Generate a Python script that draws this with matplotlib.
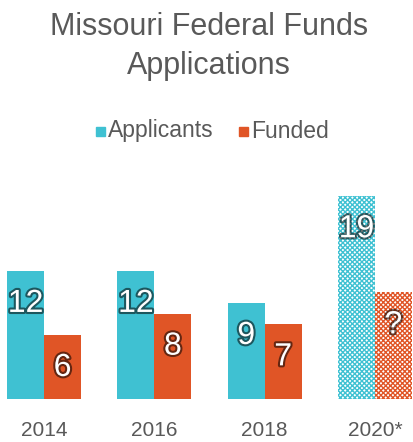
import numpy as np
import matplotlib
matplotlib.use("Agg")
import matplotlib.pyplot as plt
import matplotlib.patheffects as pe

plt.rcParams['font.family'] = ['Liberation Sans', 'DejaVu Sans']
plt.rcParams['hatch.linewidth'] = 1.0

years = ['2014', '2016', '2018', '2020*']
applicants = [12, 12, 9, 19]
funded = [6, 8, 7, 10]
funded_labels = ['6', '8', '7', '?']
applicant_labels = ['12', '12', '9', '19']
projected = [False, False, False, True]

teal = '#3FC1D2'
orange = '#E05526'
grey = '#595959'

fig = plt.figure(figsize=(4.13, 4.42), dpi=100)
ax = fig.add_axes([0, 43/442, 1, 225/442])

x = np.arange(len(years))
w = 0.335

for i in range(len(years)):
    for xpos, val, col, lab in [(x[i] - w/2, applicants[i], teal, applicant_labels[i]),
                                (x[i] + w/2, funded[i], orange, funded_labels[i])]:
        if projected[i]:
            ax.bar(xpos, val, w, color='white', edgecolor=col, hatch='xxxxxxx', linewidth=0)
        else:
            ax.bar(xpos, val, w, color=col, linewidth=0)
        t = ax.annotate(lab, (xpos, val), xytext=(0, -33), textcoords='offset pixels',
                        ha='center', va='center', fontsize=23, color='white')
        t.set_path_effects([pe.Stroke(linewidth=3, foreground='black', alpha=0.55), pe.Normal()])

ax.set_xlim(-0.4, 3.345)
ax.set_ylim(0, 225/10.67)
ax.set_xticks(x)
ax.set_xticklabels(years, fontsize=15, color=grey)
ax.tick_params(length=0, pad=16)
ax.set_yticks([])
for s in ax.spines.values():
    s.set_visible(False)

fig.text(0.505, 0.895, 'Missouri Federal Funds\nApplications', ha='center', va='center',
         fontsize=22, color=grey, linespacing=1.42)

# legend
fig.patches.append(plt.Rectangle((96/413, 1 - 136/442), 9/413, 9/442, color=teal, transform=fig.transFigure))
fig.text(108/413, 1 - 131/442, 'Applicants', ha='left', va='center', fontsize=16.5, color=grey)
fig.patches.append(plt.Rectangle((239/413, 1 - 136/442), 9/413, 9/442, color=orange, transform=fig.transFigure))
fig.text(251/413, 1 - 131/442, 'Funded', ha='left', va='center', fontsize=16.5, color=grey)

fig.savefig('out.png', dpi=100)
